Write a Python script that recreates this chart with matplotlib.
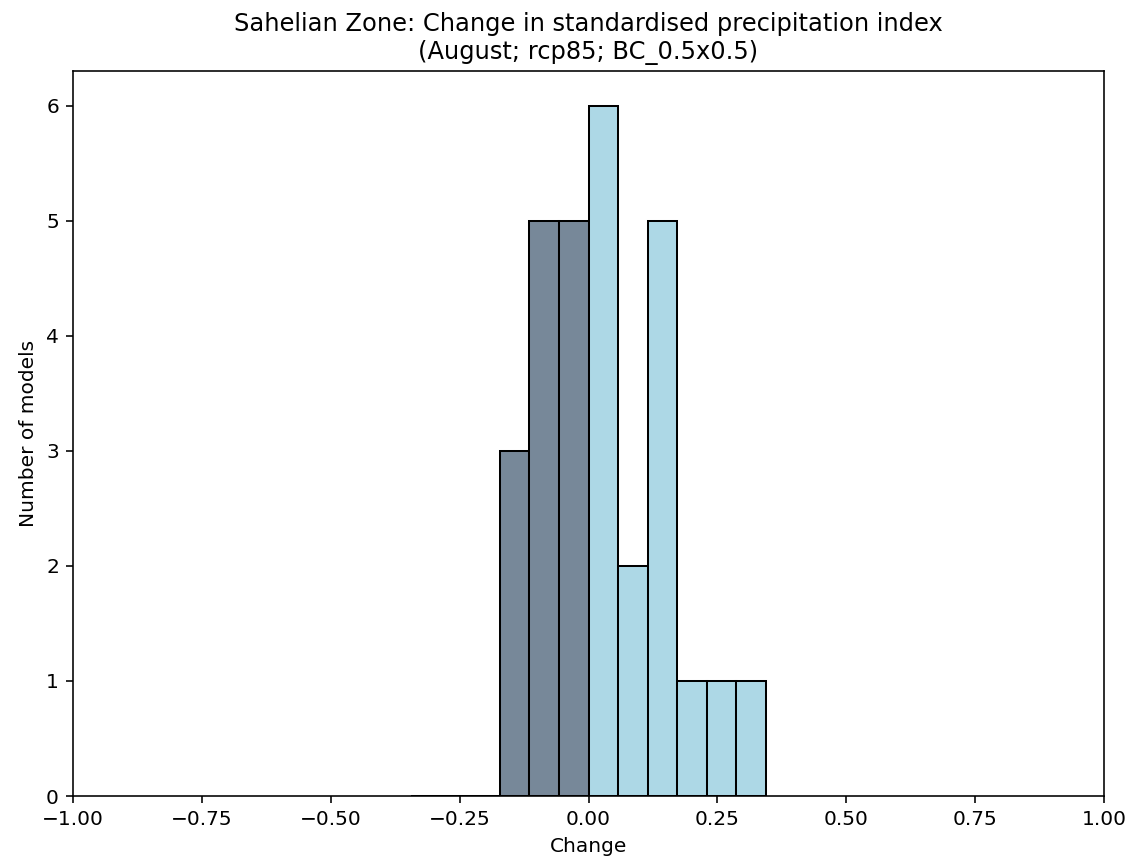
import numpy as np
import matplotlib
matplotlib.use("Agg")
import matplotlib.pyplot as plt

# histogram bin edges and number of models per bin
edges = np.linspace(-0.344, 0.344, 13)
counts = [0, 0, 0, 3, 5, 5, 6, 2, 5, 1, 1, 1]

dpi = 145
fig = plt.figure(figsize=(1133/dpi, 865/dpi), dpi=dpi)
ax = fig.add_axes([73/1133, 1-796/865, (1104-73)/1133, (796-71)/865])

# negative changes dark, positive light
cols = ["lightslategray" if e < 0 else "lightblue" for e in edges[:-1]]
ax.bar(edges[:-1], counts, width=np.diff(edges), align="edge",
       color=cols, edgecolor="black")

ax.set_xlim(-1, 1)
ax.set_title("Sahelian Zone: Change in standardised precipitation index\n(August; rcp85; BC_0.5x0.5)")
ax.set_xlabel("Change")
ax.set_ylabel("Number of models")

fig.savefig("out.png", dpi=dpi)
